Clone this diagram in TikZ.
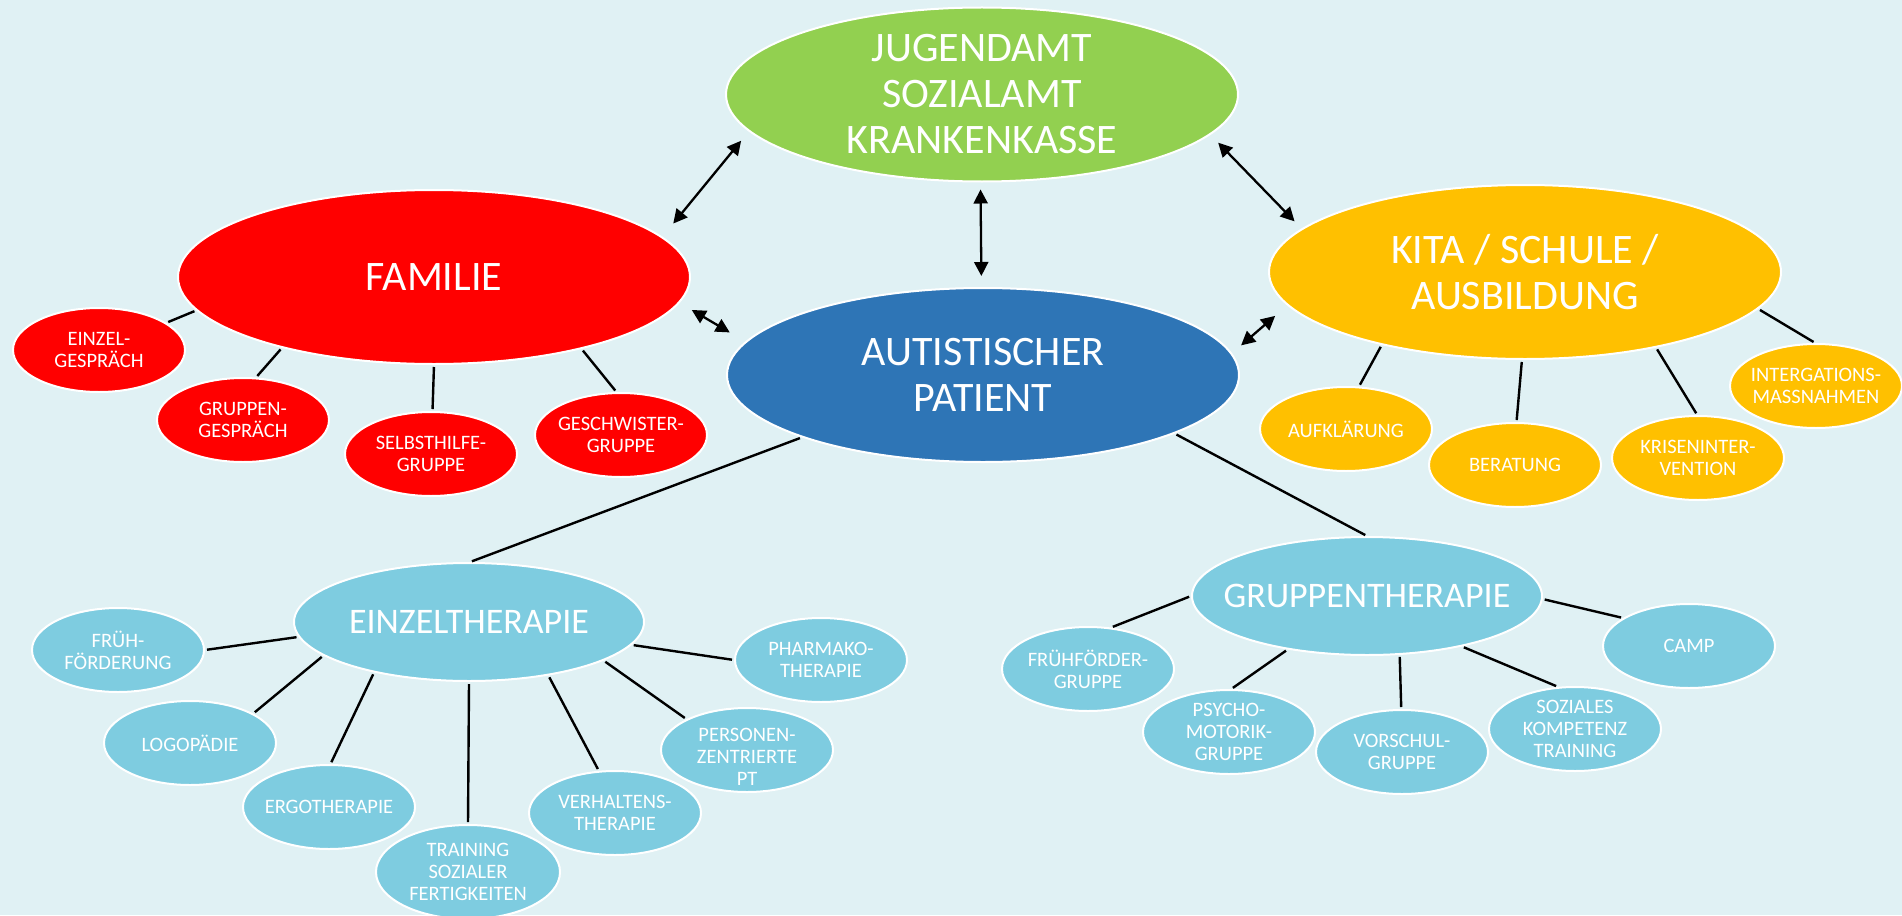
\documentclass[tikz,border=0pt]{standalone}
\usepackage{fontspec}
\setmainfont{Carlito}
\usetikzlibrary{arrows.meta,shapes.geometric}
\definecolor{bgc}{HTML}{E0F1F4}
\definecolor{cgreen}{HTML}{92D050}
\definecolor{cred}{HTML}{FF0000}
\definecolor{corange}{HTML}{FFC000}
\definecolor{cblue}{HTML}{2E75B6}
\definecolor{ccyan}{HTML}{7ECCE0}
\tikzset{
  ell/.style={ellipse, draw=white, line width=2pt, inner sep=0pt},
  bigE/.style={ell, minimum width=512pt, minimum height=174pt},
  midE/.style={ell, minimum width=350pt, minimum height=118pt},
  smE/.style={ell, minimum width=172pt, minimum height=84pt},
  trE/.style={ell, minimum width=184pt, minimum height=94pt},
  txt/.style={text=white, align=center, inner sep=0pt},
  bigT/.style={txt, font=\fontsize{42}{46}\selectfont},
  midT/.style={txt, font=\fontsize{36}{40}\selectfont},
  smT/.style={txt, font=\fontsize{20.5}{22}\selectfont},
  con/.style={line width=2.4pt, shorten <=2pt, shorten >=2pt},
  arr/.style={line width=2.3pt, {Triangle[length=14pt,width=14pt]}-{Triangle[length=14pt,width=14pt]}},
}
\begin{document}
\begin{tikzpicture}[x=1pt,y=-1pt]
\fill[bgc] (0,0) rectangle (1902,915);
\useasboundingbox (0,0) rectangle (1902,915);

% big ellipses
\node[bigE, fill=cgreen] (jug) at (982,94.5) {};
\node[bigT] (jugT) at (jug) {JUGENDAMT\\SOZIALAMT\\KRANKENKASSE};
\node[bigE, fill=cred] (fam) at (434,277) {};
\node[bigT] (famT) at (fam) {FAMILIE};
\node[bigE, fill=corange] (kita) at (1525,272) {};
\node[bigT] (kitaT) at (kita) {KITA / SCHULE /\\AUSBILDUNG};
\node[bigE, fill=cblue] (pat) at (983,375) {};
\node[bigT] (patT) at (pat) {AUTISTISCHER\\PATIENT};
\node[midE, fill=ccyan] (et) at (469,622) {};
\node[midT] (etT) at (et) {EINZELTHERAPIE};
\node[midE, fill=ccyan] (gt) at (1367,596) {};
\node[midT] (gtT) at (gt) {GRUPPENTHERAPIE};

% family children
\node[smE, fill=cred] (eg) at (99,350) {};
\node[smT] (egT) at (eg) {EINZEL-\\GESPRÄCH};
\node[smE, fill=cred] (gg) at (243,420) {};
\node[smT] (ggT) at (gg) {GRUPPEN-\\GESPRÄCH};
\node[smE, fill=cred] (sg) at (431,454) {};
\node[smT] (sgT) at (sg) {SELBSTHILFE-\\GRUPPE};
\node[smE, fill=cred] (gsg) at (621,435) {};
\node[smT] (gsgT) at (gsg) {GESCHWISTER-\\GRUPPE};

% kita children
\node[smE, fill=corange] (auf) at (1346,429) {};
\node[smT] (aufT) at (auf) {AUFKLÄRUNG};
\node[smE, fill=corange] (ber) at (1515,465) {};
\node[smT] (berT) at (ber) {BERATUNG};
\node[smE, fill=corange] (kri) at (1698,458) {};
\node[smT] (kriT) at (kri) {KRISENINTER-\\VENTION};
\node[smE, fill=corange] (int) at (1816,386) {};
\node[smT] (intT) at (int) {INTERGATIONS-\\MASSNAHMEN};

% Einzeltherapie children
\node[smE, fill=ccyan] (fru) at (118,650) {};
\node[smT] (fruT) at (fru) {FRÜH-\\FÖRDERUNG};
\node[smE, fill=ccyan] (log) at (190,743) {};
\node[smT] (logT) at (log) {LOGOPÄDIE};
\node[smE, fill=ccyan] (erg) at (329,807) {};
\node[smT] (ergT) at (erg) {ERGOTHERAPIE};
\node[trE, fill=ccyan] (tra) at (468,872) {};
\node[smT] (traT) at (tra) {TRAINING\\SOZIALER\\FERTIGKEITEN};
\node[smE, fill=ccyan] (ver) at (615,813) {};
\node[smT] (verT) at (ver) {VERHALTENS-\\THERAPIE};
\node[smE, fill=ccyan] (per) at (747,750) {};
\node[smT] (perT) at ([yshift=-7pt]per.center) {PERSONEN-\\ZENTRIERTE\\PT};
\node[smE, fill=ccyan] (pha) at (821,660) {};
\node[smT] (phaT) at (pha) {PHARMAKO-\\THERAPIE};

% Gruppentherapie children
\node[smE, fill=ccyan] (frg) at (1088,669) {};
\node[smT] (frgT) at (frg) {FRÜHFÖRDER-\\GRUPPE};
\node[smE, fill=ccyan] (psy) at (1229,732) {};
\node[smT] (psyT) at (psy) {PSYCHO-\\MOTORIK-\\GRUPPE};
\node[smE, fill=ccyan] (vor) at (1402,752) {};
\node[smT] (vorT) at (vor) {VORSCHUL-\\GRUPPE};
\node[smE, fill=ccyan] (soz) at (1575,729) {};
\node[smT] (sozT) at (soz) {SOZIALES\\KOMPETENZ\\TRAINING};
\node[smE, fill=ccyan] (cmp) at (1689,646) {};
\node[smT] (cmpT) at (cmp) {CAMP};

% arrows
\draw[arr, shorten <=17pt, shorten >=12pt] (fam.10.4) -- (jug.189.9);
\draw[arr, shorten <=7pt, shorten >=11pt] (jug.269) -- (pat.91);
\draw[arr, shorten <=11pt, shorten >=10pt] (jug.350) -- (kita.169.6);
\draw[arr, shorten <=14pt, shorten >=18pt] (fam.354.4) -- (pat.172);
\draw[arr, shorten <=12pt, shorten >=16pt] (pat.5.7) -- (kita.188.2);

% lines
\draw[con] (fam.188) -- (eg.22);
\draw[con] (fam.205) -- (gg.73);
\draw[con] (fam.270) -- (sg.88);
\draw[con] (fam.334) -- (gsg.96);
\draw[con] (kita.207) -- (auf.73);
\draw[con] (kita.268.7) -- (ber.88.7);
\draw[con] (kita.330.8) -- (kri.91.4);
\draw[con] (kita.351.4) -- (int.91.3);
\draw[con] (pat.199.7) -- (et.89);
\draw[con] (pat.343.8) -- (gt.90.3);
\draw[con] (et.185.7) -- (fru.0);
\draw[con] (et.193.4) -- (log.25.8);
\draw[con] (et.208.2) -- (erg.88.7);
\draw[con] (et.270) -- (tra.90);
\draw[con] (et.326.8) -- (ver.111.5);
\draw[con] (et.344.5) -- (per.153.8);
\draw[con] (et.352) -- (pha.180.5);
\draw[con] (gt.180.4) -- (frg.61.3);
\draw[con] (gt.214) -- (psy.87.5);
\draw[con] (gt.299.7) -- (vor.91.4);
\draw[con] (gt.332.2) -- (soz.112.7);
\draw[con] (gt.359.3) -- (cmp.157.3);
\end{tikzpicture}
\end{document}
